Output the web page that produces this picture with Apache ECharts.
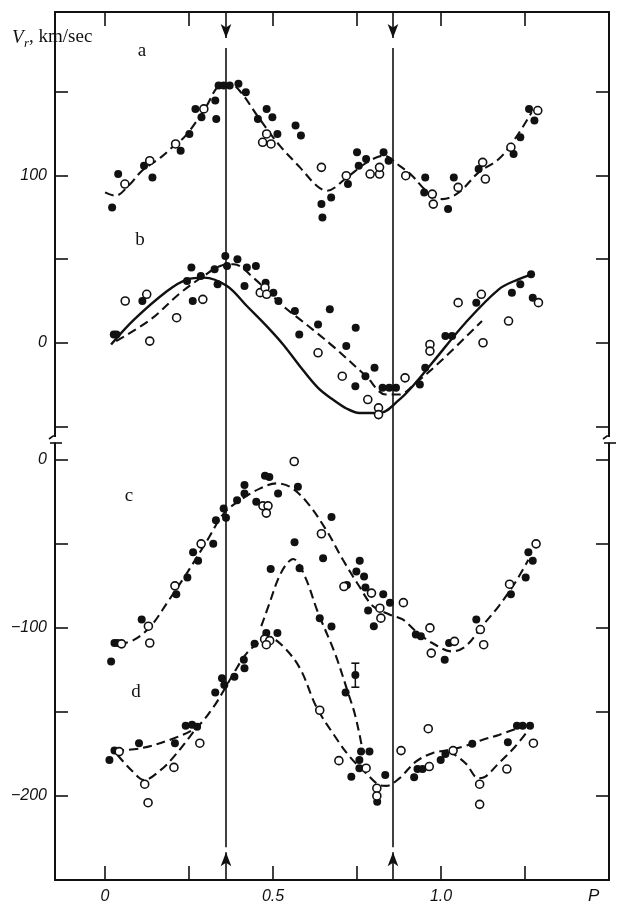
<!DOCTYPE html>
<html>
<head>
<meta charset="utf-8">
<script src="https://cdn.jsdelivr.net/npm/echarts@6.0.0/dist/echarts.min.js"></script>
<style>
html, body { margin: 0; padding: 0; background: #fff; }
#main { width: 623px; height: 909px; }
</style>
</head>
<body>
<div id="main"></div>
<script>
// axis ticks / labels
var phaseTicks = [0, 0.25, 0.5, 0.75, 1.0, 1.25];
var phaseLabels = [0, 0.5, 1.0];
var upperTicks = [-50, 0, 50, 100, 150];
var upperLabels = [0, 100];
var lowerTicks = [-200, -150, -100, -50, 0];
var lowerLabels = [-200, -100, 0];
// phases marked by the vertical arrows
var markPhases = [0.36, 0.857];

// a : filled / open points and dashed curve
var aFilled = [[0.021,81],[0.039,101],[0.116,106],[0.141,99],[0.225,115],[0.251,125],[0.269,140],[0.287,135],
  [0.328,145],[0.331,134],[0.338,154],[0.353,154],[0.371,154],[0.397,155],[0.419,150],[0.455,134],[0.481,140],
  [0.498,135],[0.513,125],[0.567,130],[0.583,124],[0.644,83],[0.647,75],[0.673,87],[0.723,95],[0.750,114],
  [0.755,106],[0.777,110],[0.829,114],[0.844,109],[0.950,90],[0.953,99],[1.021,80],[1.038,99],[1.112,104],
  [1.216,113],[1.236,123],[1.262,140],[1.278,133]];
var aOpen = [[0.059,95],[0.133,109],[0.210,119],[0.294,140],[0.469,120],[0.481,125],[0.494,119],[0.644,105],
  [0.718,100],[0.789,101],[0.817,101],[0.817,105],[0.895,100],[0.974,89],[0.977,83],[1.051,93],[1.124,108],
  [1.132,98],[1.208,117],[1.288,139]];
var aDash = [[0.0,90],[0.03,88],[0.07,94],[0.11,103],[0.166,111],[0.2,117],[0.24,124],[0.3,141],[0.34,154],
  [0.37,155],[0.4,151],[0.46,134],[0.52,118],[0.58,105],[0.63,94],[0.66,91],[0.72,99],[0.78,108],[0.83,112],
  [0.876,106],[0.914,100],[0.95,92],[0.974,88],[1.004,86],[1.053,90],[1.112,102],[1.172,110],[1.22,122],[1.27,138]];

// b
var bFilled = [[0.026,5],[0.034,5],[0.111,25],[0.244,37],[0.257,45],[0.261,25],[0.285,40],[0.326,44],[0.335,35],
  [0.358,52],[0.363,46],[0.394,50],[0.415,34],[0.422,45],[0.449,46],[0.478,36],[0.501,30],[0.516,25],[0.565,19],
  [0.578,5],[0.634,11],[0.669,20],[0.718,-2],[0.745,-26],[0.746,9],[0.775,-20],[0.802,-15],[0.826,-27],
  [0.846,-27],[0.866,-27],[0.937,-25],[0.953,-15],[1.013,4],[1.033,4],[1.105,24],[1.211,30],[1.236,35],
  [1.268,41],[1.273,27]];
var bOpen = [[0.06,25],[0.124,29],[0.133,1],[0.213,15],[0.291,26],[0.462,30],[0.476,33],[0.481,29],[0.634,-6],
  [0.706,-20],[0.782,-34],[0.814,-39],[0.814,-43],[0.893,-21],[0.967,-1],[0.967,-5],[1.051,24],[1.12,29],
  [1.125,0],[1.201,13],[1.29,24]];
var bSolid = [[0.018,-1],[0.087,14],[0.185,31],[0.245,38],[0.294,39],[0.363,34],[0.422,22],[0.481,10],[0.53,-1],
  [0.58,-14],[0.634,-27],[0.678,-34],[0.72,-39.5],[0.757,-42],[0.817,-42],[0.876,-34],[0.92,-25],[0.974,-12],
  [1.073,12],[1.172,32],[1.23,38],[1.27,41]];
var bDash = [[0.033,1],[0.136,14],[0.225,30],[0.294,40],[0.343,46],[0.383,47],[0.441,39],[0.53,22],[0.58,14],
  [0.63,6],[0.678,-2],[0.777,-20],[0.836,-31],[0.876,-31],[0.925,-24],[0.994,-12],[1.122,13]];

// c
var cFilled = [[0.018,-120],[0.028,-109],[0.037,-109],[0.109,-95],[0.212,-80],[0.245,-70],[0.262,-55],[0.277,-60],
  [0.322,-50],[0.33,-36],[0.353,-29],[0.36,-34.5],[0.393,-24],[0.415,-15],[0.415,-20],[0.45,-25],[0.476,-9.5],
  [0.489,-10.3],[0.515,-20],[0.574,-16],[0.564,-49],[0.649,-58.5],[0.674,-34],[0.72,-74.5],[0.748,-66.5],
  [0.758,-60],[0.771,-69.4],[0.775,-76],[0.783,-89.7],[0.8,-99],[0.828,-80],[0.848,-85],[0.925,-104],[0.94,-105],
  [1.011,-119],[1.024,-109],[1.105,-95],[1.208,-80],[1.252,-70],[1.26,-55],[1.273,-60]];
var cOpen = [[0.049,-109.5],[0.129,-99],[0.133,-109],[0.208,-75],[0.286,-50],[0.47,-27.4],[0.485,-27.4],
  [0.48,-31.7],[0.563,-1],[0.644,-44],[0.711,-75.4],[0.793,-79.3],[0.818,-88.3],[0.821,-94.2],[0.888,-85],
  [0.967,-100],[0.971,-115],[1.04,-108],[1.117,-101],[1.127,-110],[1.204,-74],[1.283,-50]];
var cDash = [[0.042,-110],[0.087,-107],[0.136,-99],[0.185,-85],[0.245,-67],[0.304,-48],[0.353,-32],[0.402,-24],
  [0.462,-17],[0.51,-14],[0.55,-16],[0.6,-25],[0.659,-42],[0.708,-59.5],[0.757,-75.4],[0.797,-87],[0.846,-92],
  [0.886,-95],[0.925,-102],[0.974,-109],[1.033,-114],[1.073,-111],[1.122,-99],[1.172,-87],[1.221,-73],[1.26,-59.5]];

// d
var dFilled = [[0.013,-178.6],[0.028,-173],[0.101,-168.6],[0.208,-168.6],[0.24,-158.3],[0.259,-157.7],
  [0.274,-158.8],[0.328,-138.5],[0.348,-130],[0.355,-134],[0.385,-129],[0.413,-119],[0.415,-124],[0.445,-109.5],
  [0.48,-103],[0.513,-103],[0.493,-65],[0.579,-64.5],[0.639,-94.2],[0.674,-99.2],[0.716,-138.5],[0.745,-128],
  [0.733,-188.5],[0.757,-178.6],[0.757,-183.5],[0.762,-173.6],[0.787,-173.6],[0.81,-203.4],[0.834,-187.5],
  [0.92,-188.9],[0.93,-184],[0.945,-184],[0.999,-178.6],[1.013,-175],[1.093,-169],[1.199,-168],[1.226,-158.3],
  [1.243,-158.3],[1.265,-158.3]];
var dOpen = [[0.042,-173.6],[0.118,-193],[0.128,-204],[0.205,-183],[0.282,-168.6],[0.475,-106.7],[0.49,-107.6],
  [0.48,-110],[0.639,-149],[0.696,-179],[0.777,-183.5],[0.809,-195.4],[0.809,-200],[0.881,-173],[0.962,-160],
  [0.965,-182.5],[1.036,-173],[1.115,-193],[1.115,-205],[1.196,-184],[1.275,-168.6]];
var dDashMain = [[0.03,-173],[0.107,-171.6],[0.205,-165.7],[0.274,-158.8],[0.323,-147],[0.348,-139],[0.383,-127],
  [0.422,-115],[0.471,-107],[0.49,-106],[0.53,-111],[0.58,-124],[0.629,-147],[0.678,-162.7],[0.728,-176.6],
  [0.777,-186.5],[0.817,-193.5],[0.837,-194],[0.876,-189.5],[0.925,-179.6],[0.974,-174.6],[1.024,-172.6],
  [1.073,-170.2],[1.122,-166.7],[1.172,-163.7],[1.25,-158]];
var dDashLoopL = [[0.037,-175.6],[0.08,-185],[0.116,-190.5],[0.166,-184.5],[0.205,-176.6],[0.245,-166.7],[0.274,-158.8]];
var dDashArc = [[0.465,-99],[0.49,-85],[0.515,-71],[0.54,-62],[0.56,-59],[0.594,-69],[0.634,-91],[0.684,-115],
  [0.724,-139],[0.743,-151],[0.762,-168],[0.767,-175]];
var dDashLoopR = [[1.024,-173],[1.073,-180.5],[1.112,-189.5],[1.132,-188.5],[1.172,-180.5],[1.221,-170.6],[1.26,-160.7]];
var dErrBar = [[0.745,-121],[0.745,-135.3]];

var ink = '#111';
var numFont = '"Liberation Sans", Arial, sans-serif';
var serif = '"Liberation Serif", "DejaVu Serif", serif';

function dots(data, gi, open) {
    return {
        type: 'scatter', xAxisIndex: gi, yAxisIndex: gi * 2, data: data, z: 4,
        symbol: 'circle', symbolSize: 8,
        itemStyle: open ? { color: '#fff', borderColor: ink, borderWidth: 1.6, opacity: 1 } : { color: ink, opacity: 1 }
    };
}
function curve(data, gi, dashed) {
    return {
        type: 'line', xAxisIndex: gi, yAxisIndex: gi * 2, data: data, z: 3,
        smooth: 0.35, showSymbol: false,
        lineStyle: { color: ink, width: dashed ? 2.1 : 2.4, type: dashed ? [9, 5] : 'solid' }
    };
}
function markers(gi) {
    var items = [];
    markPhases.forEach(function (x) {
        if (gi === 0) {
            items.push([{ coord: [x, 198], symbol: 'none' }, { coord: [x, 182.5], symbol: 'arrow' }]);
            items.push([{ coord: [x, 176.5], symbol: 'none' }, { coord: [x, -60], symbol: 'none' }]);
        } else {
            items.push([{ coord: [x, 10], symbol: 'none' }, { coord: [x, -230.5], symbol: 'none' }]);
            items.push([{ coord: [x, -250], symbol: 'none' }, { coord: [x, -233.5], symbol: 'arrow' }]);
        }
    });
    return {
        type: 'line', xAxisIndex: gi, yAxisIndex: gi * 2, data: [], z: 2,
        markLine: {
            silent: true, animation: false, symbolSize: [8, 14],
            label: { show: false },
            lineStyle: { color: ink, width: 1.6, type: 'solid' },
            data: items
        }
    };
}

var lineSt = { color: ink, width: 2 };
function xAxisDef(gi) {
    return {
        gridIndex: gi, type: 'value', min: -0.149, max: 1.5,
        position: gi === 0 ? 'top' : 'bottom',
        axisLine: { onZero: false, lineStyle: lineSt },
        axisTick: { inside: true, length: 14, customValues: phaseTicks, lineStyle: { color: ink, width: 1.6 } },
        axisLabel: gi === 0 ? { show: false } : {
            customValues: phaseLabels, margin: 9, color: ink, fontSize: 16, fontStyle: 'italic', fontFamily: numFont,
            formatter: function (v) { return v === 0 ? '0' : v.toFixed(1); }
        },
        splitLine: { show: false },
        name: gi === 0 ? '' : 'P', nameLocation: 'end', nameGap: -21,
        nameTextStyle: { color: ink, fontSize: 17, fontStyle: 'italic', fontFamily: numFont, verticalAlign: 'top', padding: [8, 0, 0, 0] }
    };
}
function yAxisDef(gi, side, mn, mx, ticks, labels) {
    return {
        gridIndex: gi, type: 'value', position: side, min: mn, max: mx,
        axisLine: { onZero: false, lineStyle: lineSt },
        axisTick: { inside: true, length: 13, customValues: ticks, lineStyle: { color: ink, width: 1.6 } },
        axisLabel: side === 'right' ? { show: false } : {
            customValues: labels, margin: 8, color: ink, fontSize: 16, fontStyle: 'italic', fontFamily: numFont,
            formatter: function (v) { return v < 0 ? '\u2212' + Math.abs(v) : String(v); }
        },
        splitLine: { show: false }
    };
}

function letter(t, x, y) {
    return { type: 'text', x: x, y: y, z: 10, style: { text: t, fill: ink, font: '19px ' + serif, align: 'center', verticalAlign: 'middle' } };
}
function breakMarks(x) {
    return [
        { type: 'rect', z: 20, shape: { x: x - 6, y: 437, width: 12, height: 5.5 }, style: { fill: '#fff' } },
        { type: 'polyline', z: 21, shape: { points: [[x - 6, 439], [x - 2, 436], [x, 436]] }, style: { stroke: ink, lineWidth: 1.6, fill: null } },
        { type: 'line', z: 21, shape: { x1: x - 5, y1: 443, x2: x + 7, y2: 443 }, style: { stroke: ink, lineWidth: 1.6 } }
    ];
}

var chart = echarts.init(document.getElementById('main'));
chart.setOption({
    animation: false,
    backgroundColor: '#fff',
    grid: [
        { left: 55, right: 14, top: 12, height: 431 },
        { left: 55, right: 14, top: 443, height: 437 }
    ],
    xAxis: [xAxisDef(0), xAxisDef(1)],
    yAxis: [
        yAxisDef(0, 'left', -60, 198, upperTicks, upperLabels),
        yAxisDef(0, 'right', -60, 198, upperTicks, []),
        yAxisDef(1, 'left', -250, 10, lowerTicks, lowerLabels),
        yAxisDef(1, 'right', -250, 10, lowerTicks, [])
    ],
    series: [
        markers(0), markers(1),
        curve(aDash, 0, true), curve(bSolid, 0, false), curve(bDash, 0, true),
        curve(cDash, 1, true), curve(dDashMain, 1, true), curve(dDashLoopL, 1, true),
        curve(dDashArc, 1, true), curve(dDashLoopR, 1, true),
        {
            type: 'line', xAxisIndex: 1, yAxisIndex: 2, data: dErrBar, z: 3,
            symbol: 'rect', symbolSize: [8, 1.6], showSymbol: true,
            itemStyle: { color: ink }, lineStyle: { color: ink, width: 1.5 }
        },
        dots(aFilled, 0, false), dots(aOpen, 0, true),
        dots(bFilled, 0, false), dots(bOpen, 0, true),
        dots(cFilled, 1, false), dots(cOpen, 1, true),
        dots(dFilled, 1, false), dots(dOpen, 1, true)
    ],
    graphic: [
        { type: 'text', x: 12, y: 37.5, z: 10, style: { text: 'V', fill: ink, font: 'italic 19px ' + serif, verticalAlign: 'middle' } },
        { type: 'text', x: 24, y: 44, z: 10, style: { text: 'r', fill: ink, font: 'italic 13px ' + serif, verticalAlign: 'middle' } },
        { type: 'text', x: 29, y: 37.5, z: 10, style: { text: ', km/sec', fill: ink, font: '19px ' + serif, verticalAlign: 'middle' } },
        letter('a', 142, 51), letter('b', 140, 240), letter('c', 129, 496), letter('d', 136, 692)
    ].concat(breakMarks(55), breakMarks(609))
});
</script>
</body>
</html>
